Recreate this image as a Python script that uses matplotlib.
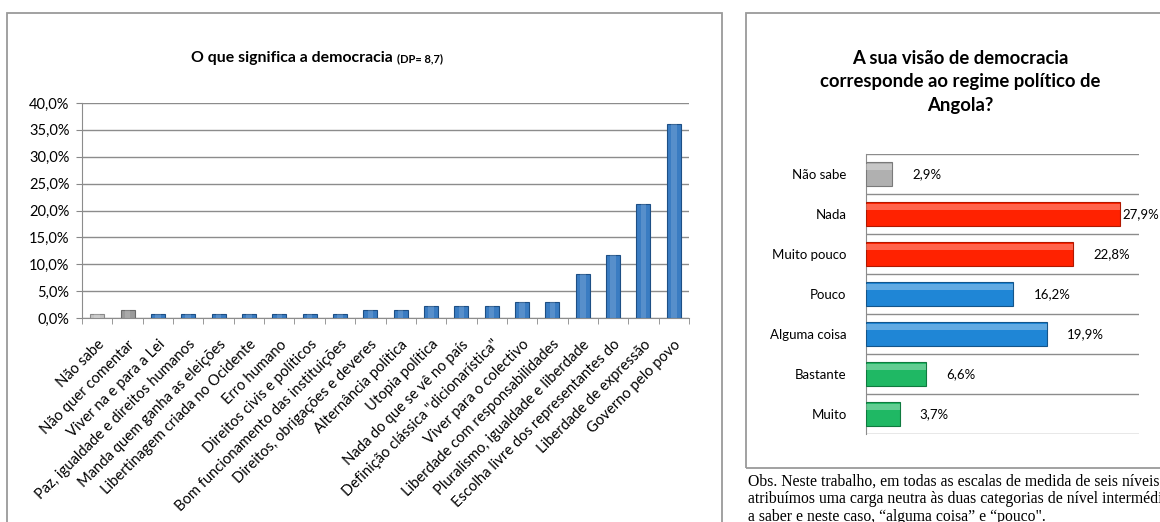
import numpy as np
import matplotlib.pyplot as plt
from matplotlib.patches import Rectangle

# Left chart: what democracy means (% of answers)
meanings = ["Não sabe", "Não quer comentar", "Viver na e para a Lei",
            "Paz, igualdade e direitos humanos", "Manda quem ganha as eleições",
            "Libertinagem criada no Ocidente", "Erro humano",
            "Direitos civis e políticos", "Bom funcionamento das instituições",
            "Direitos, obrigações e deveres", "Alternância política",
            "Utopia política", "Nada do que se vê no país",
            "Definição clássica \"dicionarística\"", "Viver para o colectivo",
            "Liberdade com responsabilidades", "Pluralismo, igualdade e liberdade",
            "Escolha livre dos representantes do", "Liberdade de expressão",
            "Governo pelo povo"]
meaning_pct = [0.7, 1.5, 0.7, 0.7, 0.7, 0.7, 0.7, 0.7, 0.7, 1.5, 1.5,
               2.2, 2.2, 2.2, 2.9, 2.9, 8.1, 11.8, 21.3, 36.0]
meaning_yticks = [0, 5, 10, 15, 20, 25, 30, 35, 40]

# Right chart: does the view match Angola's regime
levels = ["Não sabe", "Nada", "Muito pouco", "Pouco", "Alguma coisa", "Bastante", "Muito"]
level_pct = [2.9, 27.9, 22.8, 16.2, 19.9, 6.6, 3.7]
level_colors = ["#b0b0b0", "#ff2200", "#ff2200", "#1f86d6", "#1f86d6", "#1fb864", "#1fb864"]
level_edges = ["#7a7a7a", "#b01800", "#b01800", "#14558a", "#14558a", "#0f7a3f", "#0f7a3f"]

note = ("Obs. Neste trabalho, em todas as escalas de medida de seis níveis,\n"
        "atribuímos uma carga neutra às duas categorias de nível intermédio,\n"
        "a saber e neste caso, \u201calguma coisa\u201d e \u201cpouco\".")

plt.rcParams['font.family'] = ['Lato', 'DejaVu Sans']
W, H = 1160, 522
fig = plt.figure(figsize=(W / 100, H / 100), dpi=100)

def fx(px):
    return px / W

def fy(py):
    return 1 - py / H

def pct(v, p=None):
    return ("%.1f%%" % v).replace(".", ",")

# panel frames
fig.patches.append(Rectangle((fx(7), fy(530)), fx(722) - fx(7), fy(13) - fy(530),
                             transform=fig.transFigure, fill=False, ec="#9a9a9a", lw=1.3))
fig.patches.append(Rectangle((fx(746), fy(468)), fx(1170) - fx(746), fy(13) - fy(468),
                             transform=fig.transFigure, fill=False, ec="#9a9a9a", lw=1.3))

# ---- left chart
ax = fig.add_axes([fx(82), fy(318), fx(689) - fx(82), fy(103) - fy(318)])
x = np.arange(len(meanings))
cols = ["#c4c4c4", "#9a9a9a"] + ["#3a7cc2"] * (len(meanings) - 2)
edges = ["#8a8a8a", "#6a6a6a"] + ["#1d4f85"] * (len(meanings) - 2)
ax.bar(x, meaning_pct, width=0.46, color=cols, edgecolor=edges, linewidth=0.8, zorder=3)
ax.bar(x, meaning_pct, width=0.18, color="white", alpha=0.15, linewidth=0, zorder=4)
ax.set_xlim(-0.5, len(meanings) - 0.5)
ax.set_ylim(0, 40)
ax.set_yticks(meaning_yticks)
ax.yaxis.set_major_formatter(plt.FuncFormatter(pct))
ax.tick_params(axis="y", labelsize=10.5)
ax.set_xticks(x)
ax.set_xticklabels(meanings, rotation=45, ha="right", rotation_mode="anchor", fontsize=10.6)
ax.set_xticks(np.arange(len(meanings) + 1) - 0.5, minor=True)
ax.tick_params(axis="x", which="major", length=0, pad=14)
ax.tick_params(axis="x", which="minor", length=4, color="#888888")
ax.tick_params(axis="y", length=4, color="#888888", pad=5)
ax.grid(axis="y", color="#8c8c8c", lw=1.0, zorder=0)
for s in ["top", "right"]:
    ax.spines[s].set_visible(False)
for s in ["left", "bottom"]:
    ax.spines[s].set_color("#8c8c8c")
fig.text(fx(393), fy(62), "O que significa a democracia", ha="right", va="baseline",
         fontsize=11.4, fontweight="bold")
fig.text(fx(397), fy(62), "(DP= 8,7)", ha="left", va="baseline", fontsize=8, fontweight="bold")

# ---- right chart
ax2 = fig.add_axes([fx(866), fy(434), fx(1139) - fx(866), fy(154) - fy(434)])
y = np.arange(len(levels))
ax2.barh(y, level_pct, height=0.62, color=level_colors, edgecolor=level_edges, linewidth=0.8, zorder=3)
ax2.barh(y - 0.17, level_pct, height=0.14, color="white", alpha=0.3, linewidth=0, zorder=4)
ax2.set_ylim(len(levels) - 0.5, -0.5)
ax2.set_xlim(0, 30)
ax2.set_yticks(y)
ax2.set_yticklabels(levels, fontsize=9.5)
ax2.set_yticks(np.arange(len(levels) + 1) - 0.5, minor=True)
ax2.grid(axis="y", which="minor", color="#8c8c8c", lw=1.0, zorder=0)
ax2.tick_params(axis="y", which="both", length=0, pad=14)
ax2.set_xticks([])
for s in ["top", "right", "bottom"]:
    ax2.spines[s].set_visible(False)
ax2.spines["left"].set_color("#8c8c8c")
for yi, v in zip(y, level_pct):
    ax2.text(min(v + 2.2, 28.2), yi, pct(v), va="center", ha="left", fontsize=9.5, clip_on=False)
fig.text(fx(960), fy(82), "A sua visão de democracia\ncorresponde ao regime político de\nAngola?",
         ha="center", va="center", fontsize=13.3, fontweight="bold", linespacing=1.5)

fig.text(fx(748), fy(474), note, ha="left", va="top", fontsize=11.3,
         family=["Liberation Serif", "DejaVu Serif"], linespacing=1.12)

fig.savefig("out.png", dpi=100)
